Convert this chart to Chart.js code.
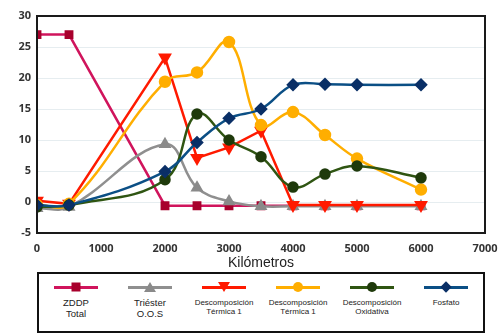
<!DOCTYPE html>
<html><head><meta charset="utf-8">
<script src="https://cdn.jsdelivr.net/npm/chart.js@4"></script>
<style>
html,body{margin:0;padding:0;background:#fff;width:500px;height:336px;overflow:hidden;font-family:"Liberation Sans",Arial,sans-serif}
#wrap{position:absolute;left:0;top:0;width:500px;height:272px}
#legend{position:absolute;left:37px;top:272px;width:444px;height:57px;border:2px solid #111;display:flex;justify-content:space-around;align-items:flex-start}
.item{width:74px;text-align:center;color:#222;line-height:1.15}
.sample{position:relative;height:14px;margin:6px auto 4px;width:44px}
.sample .ln{position:absolute;left:0;right:0;top:6px;height:3px}
.sample .mk{position:absolute;left:50%;top:7px;transform:translate(-50%,-50%)}
</style></head>
<body>
<div id="wrap"><canvas id="c"></canvas></div>
<div id="legend"></div>
<script>
const kms = [0, 500, 2000, 2500, 3000, 3500, 4000, 4500, 5000, 6000];
const zddpTotal = [27, 27, -0.6, -0.6, -0.6, -0.6, -0.6, -0.6, -0.6, -0.6];
const triesterOOS = [-1, -0.8, 9.3, 2.3, 0.1, -0.7, -0.7, -0.7, -0.7, -0.7];
const descTermica1a = [0.2, -0.3, 23.3, 7.1, 8.8, 11.5, -0.5, -0.5, -0.5, -0.5];
const descTermica1b = [-0.5, -0.3, 19.4, 20.9, 25.8, 12.4, 14.5, 10.8, 7.0, 2.0];
const descOxidativa = [-0.8, -0.5, 3.6, 14.2, 10.0, 7.3, 2.4, 4.5, 5.8, 3.9];
const fosfato = [-0.5, -0.5, 4.9, 9.6, 13.5, 15.0, 18.9, 19.0, 18.9, 18.9];
const xTicks = [0, 1000, 2000, 3000, 4000, 5000, 6000, 7000];
const yTicks = [-5, 0, 5, 10, 15, 20, 25, 30];
const seriesNames = [["ZDDP","Total"],["Triéster","O.O.S"],["Descomposición","Térmica 1"],["Descomposición","Térmica 1"],["Descomposición","Oxidativa"],["Fosfato"]];

const styles = [
  {line:'#d0145c', point:'#a8002c', shape:'rect', rot:0, tension:0, r:4.5},
  {line:'#8f8f8f', point:'#8a8a8a', shape:'triangle', rot:0, tension:0.4, r:5},
  {line:'#ff1a00', point:'#ff1a00', shape:'triangle', rot:180, tension:0, r:5.5},
  {line:'#ffae00', point:'#ffae00', shape:'circle', rot:0, tension:0.4, r:5},
  {line:'#2f5512', point:'#1f3a0b', shape:'circle', rot:0, tension:0.4, r:4.5},
  {line:'#0b4f85', point:'#0a2f66', shape:'rectRot', rot:0, tension:0.4, r:5}
];
const values = [zddpTotal, triesterOOS, descTermica1a, descTermica1b, descOxidativa, fosfato];

const datasets = values.map((v,i)=>({
  label: seriesNames[i].join(' '),
  data: kms.map((k,j)=>({x:k,y:v[j]})),
  borderColor: styles[i].line,
  backgroundColor: styles[i].point,
  pointBackgroundColor: styles[i].point,
  pointBorderColor: styles[i].point,
  pointStyle: styles[i].shape,
  pointRotation: styles[i].rot,
  pointRadius: styles[i].r,
  borderWidth: 2.5,
  tension: styles[i].tension,
  order: 6-i
}));

const frame = {
  id:'frame',
  afterDatasetsDraw(chart){
    const a = chart.chartArea, ctx = chart.ctx;
    ctx.save(); ctx.strokeStyle='#1a1a1a'; ctx.lineWidth=2;
    ctx.strokeRect(a.left, a.top, a.right-a.left, a.bottom-a.top);
    ctx.restore();
  }
};

new Chart(document.getElementById('c'), {
  type:'line',
  data:{datasets},
  options:{
    responsive:true, maintainAspectRatio:false, animation:false,
    layout:{padding:{top:16, right:15, left:0, bottom:0}},
    plugins:{legend:{display:false}, tooltip:{enabled:false}},
    scales:{
      x:{type:'linear', min:0, max:7000,
        afterBuildTicks(s){ s.ticks = xTicks.map(v=>({value:v})); },
        afterFit(s){ s.height = 39; },
        grid:{display:false},
        border:{display:false},
        ticks:{color:'#333', font:{family:'Open Sans', weight:'bold', size:11}, padding:1, maxRotation:0,
          callback:v=>String(v)},
        title:{display:true, text:'Kilómetros', color:'#222', font:{family:'Liberation Sans', size:14}, padding:{top:2,bottom:0}}
      },
      y:{min:-5, max:30,
        afterBuildTicks(s){ s.ticks = yTicks.map(v=>({value:v})); },
        afterFit(s){ s.width = 37; },
        grid:{color:'#e6edf0', drawTicks:false},
        border:{display:false},
        ticks:{color:'#333', font:{family:'Open Sans', weight:'bold', size:11}, padding:6}
      }
    }
  },
  plugins:[frame]
});

// HTML legend
const lg = document.getElementById('legend');
seriesNames.forEach((nm,i)=>{
  const st = styles[i];
  const it = document.createElement('div'); it.className='item';
  const sm = document.createElement('div'); sm.className='sample';
  const ln = document.createElement('div'); ln.className='ln'; ln.style.background=st.line;
  const mk = document.createElement('div'); mk.className='mk';
  if(st.shape==='rect'){ mk.style.cssText+='width:9px;height:9px;background:'+st.point; }
  else if(st.shape==='circle'){ mk.style.cssText+='width:10px;height:10px;border-radius:50%;background:'+st.point; }
  else if(st.shape==='rectRot'){ mk.style.cssText+='width:8px;height:8px;background:'+st.point+';transform:translate(-50%,-50%) rotate(45deg)'; }
  else if(st.shape==='triangle'){
    const up = st.rot===0;
    mk.style.cssText+='width:0;height:0;border-left:6px solid transparent;border-right:6px solid transparent;'+(up?'border-bottom:10px solid '+st.point:'border-top:10px solid '+st.point);
  }
  sm.appendChild(ln); sm.appendChild(mk);
  const tx = document.createElement('div');
  tx.innerHTML = nm.join('<br>');
  tx.style.fontSize = (i<2? '9.5px' : '8px');
  if(i===5) tx.style.marginTop='2px';
  it.appendChild(sm); it.appendChild(tx);
  lg.appendChild(it);
});
</script>
</body></html>
